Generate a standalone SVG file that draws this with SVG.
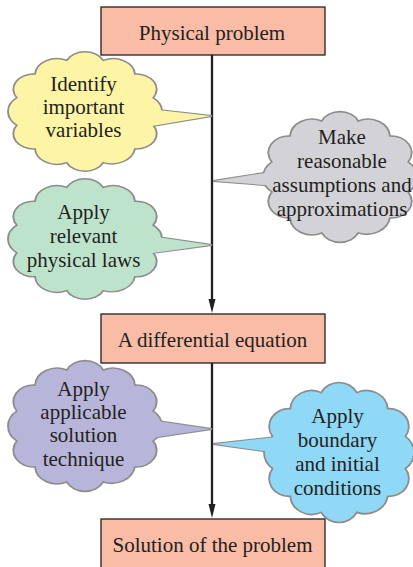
<svg xmlns="http://www.w3.org/2000/svg" xmlns:xlink="http://www.w3.org/1999/xlink" width="413" height="567" viewBox="0 0 413 567">
<style>
.box{fill:#F9BCA6;stroke:#231F20;stroke-width:1.3}
.t{font-family:"Liberation Serif","Times New Roman",serif;font-size:21px;fill:#231F20;text-anchor:middle}
.cl{stroke:#8C8C8C;stroke-width:1.2;vector-effect:non-scaling-stroke}
.tail{stroke:#8C8C8C;stroke-width:2;stroke-linejoin:miter}
.tf{stroke:none}
.wire{stroke:#231F20;stroke-width:2.3;fill:none}
.y{fill:#FDF5A5}.g{fill:#D3D2D6}.gr{fill:#BEE3CC}.p{fill:#B8B5DA}.b{fill:#8FD8F6}
</style>
<defs>
<path id="cloud" d="M61.72,6.29 A14 14 0 0 1 82,18 A13 13 0 0 1 93.71,38.28 A15 15 0 0 1 93.71,61.72 A13 13 0 0 1 82,82 A15 15 0 0 1 61.72,93.71 A13 13 0 0 1 38.28,93.71 A14 14 0 0 1 18,82 A13 13 0 0 1 6.29,61.72 A15 15 0 0 1 6.29,38.28 A13 13 0 0 1 18,18 A14 14 0 0 1 38.28,6.29 A13 13 0 0 1 61.72,6.29 Z"/>
<marker id="arr" markerUnits="userSpaceOnUse" markerWidth="14" markerHeight="8" refX="7" refY="3.5" orient="auto" viewBox="0 0 14 7">
<path d="M0,0 L14,3.5 L0,7 Z" fill="#231F20"/>
</marker>
</defs>

<g id="connectors">
<line class="wire" x1="212" y1="55" x2="212" y2="306" marker-end="url(#arr)"/>
<line class="wire" x1="212" y1="363" x2="212" y2="511" marker-end="url(#arr)"/>
</g>

<g id="n-physical">
<rect class="box" x="101" y="7" width="224" height="48"/>
<text class="t" x="212" y="40">Physical problem</text>
</g>

<g id="n-identify">
<polygon class="tail y" points="140,108 212,116 140,128"/>
<use href="#cloud" class="cl y" transform="translate(7,53) scale(1.56,1.17)"/>
<polygon class="tf y" points="140,108 211,116 140,128"/>
<text class="t" x="83.5" y="90.5">Identify</text>
<text class="t" x="83.5" y="113.5">important</text>
<text class="t" x="83.5" y="136.5">variables</text>
</g>

<g id="n-assume">
<polygon class="tail g" points="290,169 213,181 290,187"/>
<use href="#cloud" class="cl g" transform="translate(262,113) scale(1.56,1.28)"/>
<polygon class="tf g" points="290,169 214,181 290,187"/>
<text class="t" x="342" y="144">Make</text>
<text class="t" x="342" y="168">reasonable</text>
<text class="t" x="342" y="192">assumptions and</text>
<text class="t" x="342" y="216">approximations</text>
</g>

<g id="n-laws">
<polygon class="tail gr" points="140,234.5 212,245 140,254.7"/>
<use href="#cloud" class="cl gr" transform="translate(7,180) scale(1.56,1.18)"/>
<polygon class="tf gr" points="140,234.5 211,245 140,254.7"/>
<text class="t" x="83.5" y="219.3">Apply</text>
<text class="t" x="83.5" y="242.7">relevant</text>
<text class="t" x="83.5" y="266.7">physical laws</text>
</g>

<g id="n-diffeq">
<rect class="box" x="101" y="314" width="224" height="49"/>
<text class="t" x="212.5" y="346.7">A differential equation</text>
</g>

<g id="n-technique">
<polygon class="tail p" points="140,418.5 212,429 140,439.5"/>
<use href="#cloud" class="cl p" transform="translate(7,362) scale(1.56,1.28)"/>
<polygon class="tf p" points="140,418.5 211,429 140,439.5"/>
<text class="t" x="83.5" y="395.7">Apply</text>
<text class="t" x="83.5" y="419">applicable</text>
<text class="t" x="83.5" y="442.3">solution</text>
<text class="t" x="83.5" y="465.7">technique</text>
</g>

<g id="n-boundary">
<polygon class="tail b" points="290,435.4 213,444 290,454.8"/>
<use href="#cloud" class="cl b" transform="translate(263,384) scale(1.52,1.37)"/>
<polygon class="tf b" points="290,435.4 214,444 290,454.8"/>
<text class="t" x="337.5" y="423.3">Apply</text>
<text class="t" x="337.5" y="447.3">boundary</text>
<text class="t" x="337.5" y="471">and initial</text>
<text class="t" x="337.5" y="495">conditions</text>
</g>

<g id="n-solution">
<rect class="box" x="101" y="519" width="224" height="49"/>
<text class="t" x="212.5" y="551.7">Solution of the problem</text>
</g>
</svg>
